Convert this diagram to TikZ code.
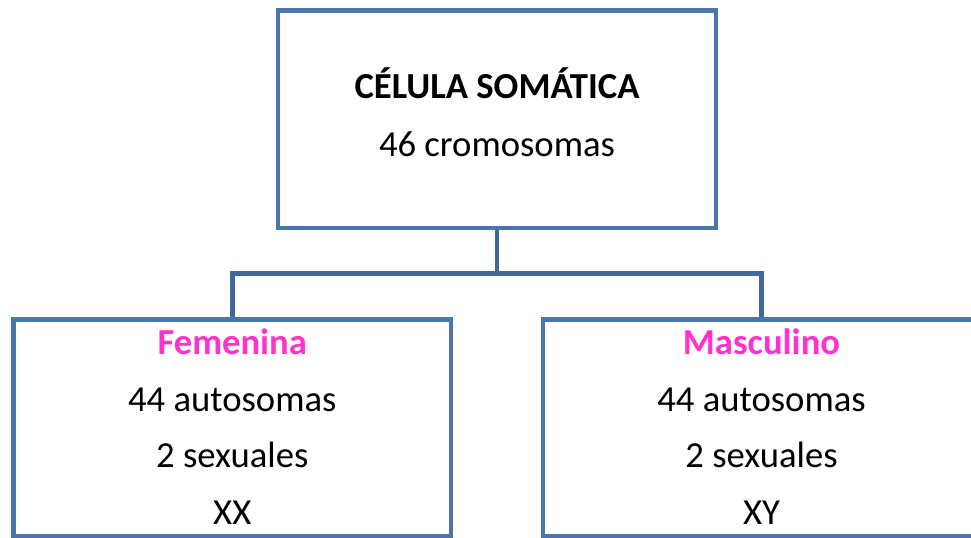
\documentclass[tikz,border=0pt]{standalone}
\usepackage{fontspec}
\setmainfont{Carlito}
\definecolor{boxblue}{HTML}{4A76AC}
\definecolor{linkblue}{HTML}{41689B}
\definecolor{pinkm}{HTML}{FF33CC}
\tikzset{
  cell/.style={draw=boxblue, line width=3.4pt, rectangle, inner sep=0pt, fill=white},
  link/.style={draw=linkblue, line width=3.6pt, line join=miter},
  txt/.style={anchor=base, inner sep=0pt, font=\fontsize{27.5pt}{33pt}\selectfont},
  ttl/.style={txt, font=\fontsize{27.5pt}{33pt}\selectfont\bfseries},
  sex/.style={ttl, text=pinkm}
}
\begin{document}
\begin{tikzpicture}[x=0.75pt, y=-0.75pt]
\useasboundingbox (0,0) rectangle (971,538);
\fill[white] (0,0) rectangle (971,538);
\node[cell, minimum width=438*0.75pt, minimum height=217.5*0.75pt] (top) at (497,119.25) {};
\node[cell, minimum width=437.5*0.75pt, minimum height=216.5*0.75pt] (left) at (232.25,427.75) {};
\node[cell, minimum width=437*0.75pt, minimum height=216.5*0.75pt] (right) at (761.5,427.75) {};
\coordinate (hub) at (497,273.5);
\draw[link] (top.south) -- (hub);
\draw[link] (left.north) |- (hub) -| (right.north);
\node[ttl] (t1) at (497,99) {CÉLULA SOMÁTICA};
\node[txt] (t2) at (497,157) {46 cromosomas};
\node[sex] (l1) at (232.25,354) {Femenina};
\node[txt] (l2) at (232.25,411) {44 autosomas};
\node[txt] (l3) at (232.25,467) {2 sexuales};
\node[txt] (l4) at (232.25,524) {XX};
\node[sex] (r1) at (761.5,354) {Masculino};
\node[txt] (r2) at (761.5,411) {44 autosomas};
\node[txt] (r3) at (761.5,467) {2 sexuales};
\node[txt] (r4) at (761.5,524) {XY};
\end{tikzpicture}
\end{document}
